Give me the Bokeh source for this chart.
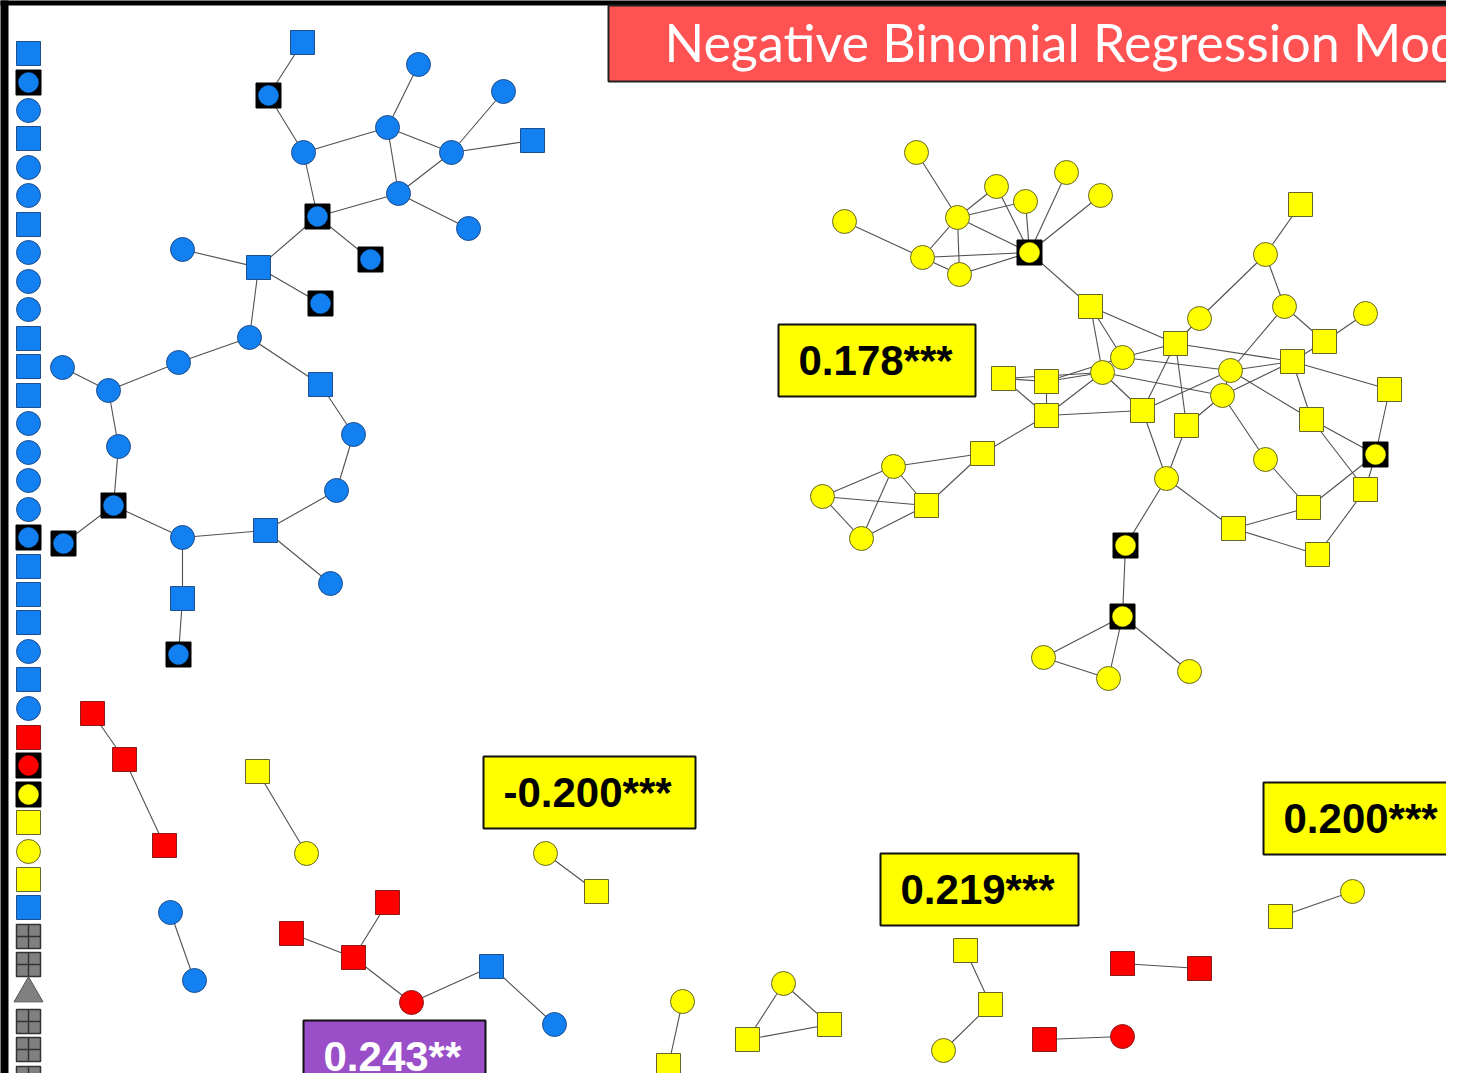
from bokeh.plotting import figure
from bokeh.models import Range1d
from bokeh.embed import file_html
from bokeh.resources import INLINE
from bokeh.core.properties import value

# ---------------- data ----------------
# isolated nodes (left column)
iso_y = [53, 82, 110, 138, 167, 195, 224, 252, 281, 309, 338, 366, 395, 423, 452, 480,
         509, 537, 566, 594, 622, 651, 679, 708, 737, 765, 794, 822, 851, 879, 907, 936,
         964, 993, 1021, 1049, 1078]
iso_kind = list("sbcscc" "sccc" "sss" "cccc" "b" "sss" "c" "s" "c" "sb" "b" "scs" "s" "gg" "t" "ggg")
iso_group = list("B" * 24 + "R" * 2 + "Y" * 4 + "B" + "G" * 6)
iso_x = [28] * len(iso_y)

# network nodes
node_x = [302, 268, 303, 387, 418, 503, 532, 451, 398, 468, 317, 370, 258, 320, 182, 249,
          178, 62, 108, 118, 113, 63, 182, 182, 178, 265, 330, 336, 353, 320,
          916, 844, 996, 1025, 1066, 1100, 957, 922, 959, 1029, 1300, 1265, 1090, 1199, 1284, 1365,
          1324, 1175, 1122, 1102, 1003, 1046, 1230, 1292, 1222, 1389, 1142, 1046, 1186, 1311, 1375,
          1265, 982, 893, 822, 926, 861, 1166, 1365, 1308, 1233, 1317, 1125, 1122, 1043, 1108, 1189,
          92, 124, 164, 257, 306, 545, 596, 170, 194, 291, 387, 353, 411, 491, 554,
          682, 668, 783, 747, 829, 965, 990, 943, 1122, 1199, 1044, 1122, 1352, 1280]
node_y = [42, 95, 152, 127, 64, 91, 140, 152, 193, 228, 216, 259, 267, 303, 249, 337,
          362, 367, 390, 446, 505, 543, 537, 598, 654, 530, 583, 490, 434, 384,
          152, 221, 186, 201, 172, 195, 217, 257, 274, 252, 204, 254, 306, 318, 306, 313,
          341, 343, 357, 372, 378, 381, 370, 361, 395, 389, 410, 415, 425, 419, 454,
          459, 453, 466, 496, 505, 538, 478, 489, 507, 528, 554, 545, 616, 657, 678, 671,
          713, 759, 845, 771, 853, 853, 891, 912, 980, 933, 902, 957, 1002, 966, 1024,
          1001, 1065, 983, 1039, 1024, 950, 1004, 1050, 963, 968, 1039, 1036, 891, 916]
node_kind = list("sbccccscccbbsbcc" "ccccbbcsbscccs"
                 "ccccccccc" "b" "scscccsscc" "ssc" "s" "c" "s" "sss" "s" "b"
                 "c" "sccsc" "c" "s" "s" "s" "s" "bb" "ccc"
                 "sss" "sc" "cs" "cc" "sssc" "sc"
                 "cs" "css" "ssc" "ss" "sc" "cs")
node_group = list("B" * 30 + "Y" * 47 + "RRR" + "YY" + "YY" + "BB" + "RRRR" + "BB"
                  + "YY" + "YYY" + "YYY" + "RR" + "RR" + "YY")

edge_src = [0, 1, 2, 3, 3, 3, 7, 7, 7, 8, 2, 10, 10, 10, 12, 12, 12, 15, 15, 16, 17, 18, 19, 20, 20,
            22, 23, 22, 25, 25, 27, 28,
            30, 31, 32, 36, 32, 33, 34, 35, 36, 36, 36, 37, 37, 38, 39,
            41, 41, 41, 44, 45, 44,
            42, 42, 42, 48, 48, 49, 48, 50, 50, 50, 51, 57, 57, 57, 49, 49, 47, 47, 47, 52, 52, 56,
            58, 54, 52, 54, 53, 53, 53, 55, 59, 59, 56, 58,
            61, 69, 60, 68, 69, 70, 67, 67, 72, 73, 73, 73, 74,
            62, 62, 63, 63, 63, 64, 64, 66, 43,
            77, 78, 80, 82, 84, 86, 87, 88, 89, 90, 92, 94, 94, 95, 97, 98, 100, 102, 104]
edge_dst = [1, 2, 3, 4, 7, 8, 5, 6, 8, 9, 10, 8, 11, 12, 13, 14, 15, 16, 29, 18, 18, 19, 20, 21, 22,
            23, 24, 25, 27, 26, 28, 29,
            36, 37, 36, 33, 39, 39, 39, 39, 39, 37, 38, 39, 38, 39, 42,
            40, 43, 44, 46, 46, 52,
            47, 49, 48, 47, 52, 51, 51, 49, 51, 57, 57, 49, 56, 62, 56, 54, 56, 58, 53, 53, 54, 52,
            54, 53, 59, 61, 46, 55, 59, 60, 60, 68, 67, 67,
            69, 60, 68, 71, 70, 71, 70, 72, 73, 74, 75, 76, 75,
            63, 65, 64, 65, 66, 65, 66, 65, 47,
            78, 79, 81, 83, 85, 88, 88, 89, 90, 91, 93, 95, 96, 96, 98, 99, 101, 103, 105]

# annotation boxes
label_text = ["0.178***", "-0.200***", "0.200***", "0.219***", "0.243**"]
title_text = "Negative Binomial Regression Models"

# ---------------- style / layout ----------------
label_left = [778, 483, 1263, 880, 303]
label_right = [975, 695, 1470, 1078, 485]
label_top = [324, 756, 782, 853, 1020]
label_fill = ["#FFFF00", "#FFFF00", "#FFFF00", "#FFFF00", "#9A4FC9"]
label_color = ["black", "black", "black", "black", "white"]

fill_map = {"B": "#1280F0", "Y": "#FFFF00", "R": "#FF0000", "G": "#808080"}
line_map = {"B": "#1F4E8C", "Y": "#66662A", "R": "#8B1A1A", "G": "#3A3A3A"}

W, H = 1446, 1073
p = figure(width=W, height=H, x_range=Range1d(0, W), y_range=Range1d(H, 0),
           output_backend="svg", toolbar_location=None, min_border=0)
p.axis.visible = False
p.grid.visible = False
p.outline_line_color = None
p.background_fill_color = "white"

# black frame edges of the slide
p.quad(left=[-10], right=[8], top=[-10], bottom=[H + 20], fill_color="black", line_color=None)
p.quad(left=[-10], right=[W + 20], top=[-10], bottom=[5], fill_color="black", line_color=None)

# title banner
p.quad(left=[608], right=[1480], top=[5], bottom=[81], fill_color="#FF5252",
       line_color="#222222", line_width=2)
p.text(x=[664], y=[41], text=[title_text], text_color="white", text_font=value("Lato"),
       text_font_size="52px", text_baseline="alphabetic", text_align="left")

# edges
p.segment(x0=[node_x[i] for i in edge_src], y0=[node_y[i] for i in edge_src],
          x1=[node_x[j] for j in edge_dst], y1=[node_y[j] for j in edge_dst],
          line_color="#505050", line_width=1.1)

# nodes
all_x = iso_x + node_x
all_y = iso_y + node_y
all_k = iso_kind + node_kind
all_g = iso_group + node_group


def sel(kind):
    idx = [i for i, k in enumerate(all_k) if k == kind]
    return ([all_x[i] for i in idx], [all_y[i] for i in idx],
            [fill_map[all_g[i]] for i in idx], [line_map[all_g[i]] for i in idx])


x, y, f, l = sel("c")
p.scatter(x, y, marker="circle", size=24, fill_color=f, line_color=l, line_width=1)
x, y, f, l = sel("s")
p.scatter(x, y, marker="square", size=24, fill_color=f, line_color=l, line_width=1)
x, y, f, l = sel("b")
p.scatter(x, y, marker="square", size=25, fill_color="black", line_color="black")
p.scatter(x, y, marker="circle", size=20, fill_color=f, line_color=f, line_width=0.5)
x, y, f, l = sel("g")
p.scatter(x, y, marker="square_cross", size=24, fill_color=f, line_color="#333333", line_width=1.5)
x, y, f, l = sel("t")
p.scatter(x, y, marker="triangle", size=29, fill_color=f, line_color="#555555", line_width=1)

# coefficient boxes
p.quad(left=label_left, right=label_right, top=label_top, bottom=[t + 72 for t in label_top],
       fill_color=label_fill, line_color="#111111", line_width=2)
p.text(x=[l + 20 for l in label_left], y=[t + 36 for t in label_top], text=label_text,
       text_color=label_color, text_font=value("Liberation Sans"), text_font_style="bold",
       text_font_size="42px", text_baseline="alphabetic", text_align="left")

open("out.html", "w").write(file_html(p, INLINE))
